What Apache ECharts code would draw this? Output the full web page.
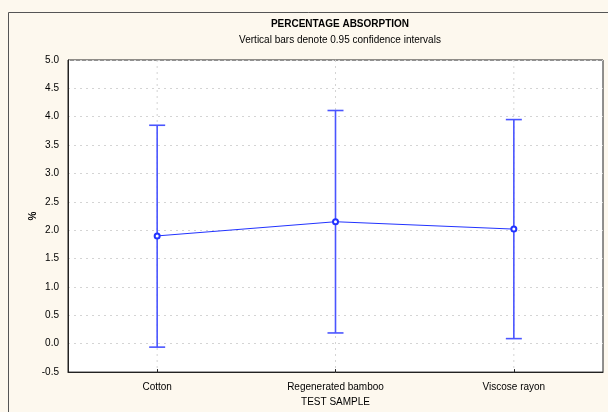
<!DOCTYPE html>
<html>
<head>
<meta charset="utf-8">
<script src="https://cdn.jsdelivr.net/npm/echarts@6/dist/echarts.min.js"></script>
<style>html,body{margin:0;padding:0;background:#fdf8ee;}#c{width:608px;height:412px;}</style>
</head>
<body>
<div id="c"></div>
<script>
var categories = ['Cotton', 'Regenerated bamboo', 'Viscose rayon'];
var means = [1.90, 2.15, 2.02];
var lower = [-0.06, 0.19, 0.09];
var upper = [3.85, 4.11, 3.95];
var yMin = -0.5, yMax = 5.0, yStep = 0.5;

var chart = echarts.init(document.getElementById('c'), null, {renderer: 'canvas'});
var blue = '#4a55ff';
var font = 'Liberation Sans, Arial, sans-serif';

var barData = categories.map(function (c, i) { return [i, lower[i], upper[i]]; });

chart.setOption({
  backgroundColor: '#fdf8ee',
  animation: false,
  graphic: [{
    type: 'polyline',
    shape: {points: [[8.5, 420], [8.5, 12.5], [620, 12.5]]},
    style: {stroke: '#555', lineWidth: 1, fill: null},
    silent: true, z: -1
  }],
  title: {
    text: 'PERCENTAGE ABSORPTION',
    subtext: 'Vertical bars denote 0.95 confidence intervals',
    left: 335, textAlign: 'center', top: 14, itemGap: 6,
    textStyle: {fontFamily: font, fontSize: 10, fontWeight: 'bold', color: '#000'},
    subtextStyle: {fontFamily: font, fontSize: 10, color: '#000'}
  },
  grid: {left: 68, right: 5, top: 60, bottom: 37, show: true, backgroundColor: '#fff', borderColor: '#222', borderWidth: 1},
  xAxis: {
    type: 'category', data: categories, boundaryGap: true,
    name: 'TEST SAMPLE', nameLocation: 'middle', nameGap: 24,
    nameTextStyle: {fontFamily: font, fontSize: 10, color: '#000'},
    axisLine: {show: true, onZero: false, lineStyle: {color: '#222'}},
    axisTick: {show: true, inside: true, alignWithLabel: true, length: 3, lineStyle: {color: '#222'}},
    axisLabel: {fontFamily: font, fontSize: 10, color: '#000', margin: 10},
    splitLine: {show: false}
  },
  yAxis: {
    type: 'value', min: yMin, max: yMax, interval: yStep,
    name: '%', nameLocation: 'middle', nameGap: 30, nameRotate: 90, nameMoveOverlap: false,
    nameTextStyle: {fontFamily: font, fontSize: 10, color: '#000', fontWeight: 'bold'},
    axisLine: {show: true, lineStyle: {color: '#222'}},
    axisTick: {show: false},
    axisLabel: {fontFamily: font, fontSize: 10, color: '#000', margin: 9, formatter: function (v) { return v.toFixed(1); }},
    splitLine: {show: true, lineStyle: {color: '#d4d4d4', type: [2, 4], width: 1}}
  },
  series: [{
    type: 'custom',
    data: barData,
    z: 2,
    renderItem: function (params, api) {
      var x = api.value(0);
      var top = api.coord([x, yMax]);
      var bot = api.coord([x, yMin]);
      var lo = api.coord([x, api.value(1)]);
      var hi = api.coord([x, api.value(2)]);
      var cap = 8;
      return {
        type: 'group',
        children: [
          {type: 'line', shape: {x1: top[0], y1: top[1], x2: bot[0], y2: bot[1]}, style: {stroke: '#d4d4d4', lineWidth: 1, lineDash: [2, 4]}},
          {type: 'line', shape: {x1: lo[0], y1: lo[1], x2: hi[0], y2: hi[1]}, style: {stroke: blue, lineWidth: 1.6}},
          {type: 'line', shape: {x1: hi[0] - cap, y1: hi[1], x2: hi[0] + cap, y2: hi[1]}, style: {stroke: blue, lineWidth: 1.6}},
          {type: 'line', shape: {x1: lo[0] - cap, y1: lo[1], x2: lo[0] + cap, y2: lo[1]}, style: {stroke: blue, lineWidth: 1.6}}
        ]
      };
    }
  }, {
    type: 'line',
    data: means,
    z: 3,
    symbol: 'emptyCircle', symbolSize: 5,
    lineStyle: {color: '#2233ff', width: 1},
    itemStyle: {color: '#2233ff', borderColor: '#2233ff', borderWidth: 1}
  }]
});
</script>
</body>
</html>
